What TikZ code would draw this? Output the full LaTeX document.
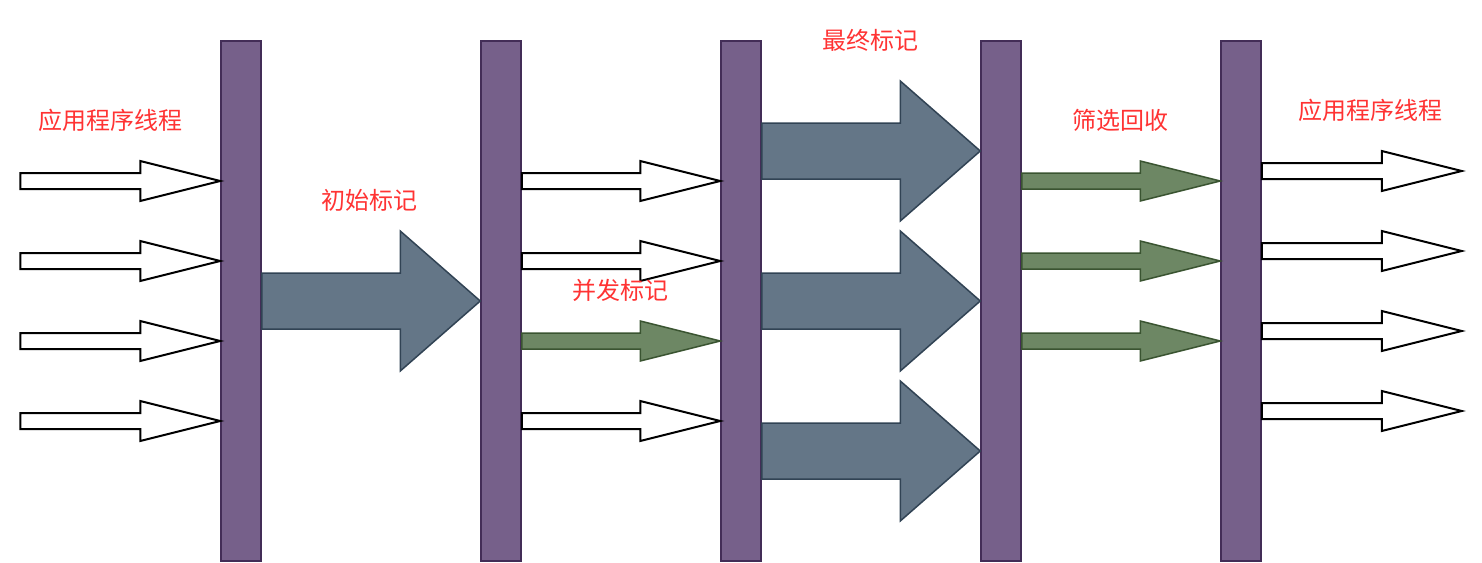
\documentclass[tikz,border=0pt]{standalone}
\usepackage{fontspec}
\newfontfamily\cjk{Noto Sans CJK SC}
\usepackage{tikz}
\usetikzlibrary{calc}
\definecolor{barFill}{HTML}{76608A}
\definecolor{barLine}{HTML}{432D57}
\definecolor{bigFill}{HTML}{647687}
\definecolor{bigLine}{HTML}{314354}
\definecolor{greenFill}{HTML}{6D8764}
\definecolor{greenLine}{HTML}{3A5431}
\definecolor{labelRed}{HTML}{FF3333}
\tikzset{gcFig/.style={x=1pt,y=-1pt},
         bar/.style={draw=barLine,fill=barFill,line width=1.5pt,minimum width=40pt,
                    minimum height=520pt,inner sep=0pt},
         thinArrow/.style={draw=black,fill=white,line width=2pt},
         bigArrow/.style={draw=bigLine,fill=bigFill,line width=1.5pt},
         greenArrow/.style={draw=greenLine,fill=greenFill,line width=1.5pt},
         stageLabel/.style={text=labelRed,inner sep=0pt,font=\cjk\fontsize{24}{28}\selectfont}}
% style, from, to, shaft half, head half, head length
\newcommand{\blockarrow}[6]{%
  \draw[#1] let \p1=#2, \p2=#3 in
    (\x1,\y1-#4) -- (\x2-#6,\y1-#4) -- (\x2-#6,\y1-#5) -- (\x2,\y1)
    -- (\x2-#6,\y1+#5) -- (\x2-#6,\y1+#4) -- (\x1,\y1+#4) -- cycle;}

\begin{document}
\begin{tikzpicture}[gcFig]
			\useasboundingbox (0,0) rectangle (1482,562);
			%BARS
			\node [bar] (b1) at (241,301) {};
			\node [bar] (b2) at (501,301) {};
			\node [bar] (b3) at (741,301) {};
			\node [bar] (b4) at (1001,301) {};
			\node [bar] (b5) at (1241,301) {};

			%APP THREADS IN
			\foreach \dy in {-120,-40,40,120}
			  {\blockarrow{thinArrow}{($(b1.west)+(-200,\dy)$)}{($(b1.west)+(0,\dy)$)}{8pt}{20pt}{80pt}}
			%INITIAL MARK
			\blockarrow{bigArrow}{(b1.east)}{(b2.west)}{28pt}{70pt}{80pt}
			%CONCURRENT MARK
			\foreach \dy in {-120,-40,120}
			  {\blockarrow{thinArrow}{($(b2.east)+(0,\dy)$)}{($(b3.west)+(0,\dy)$)}{8pt}{20pt}{80pt}}
			\blockarrow{greenArrow}{($(b2.east)+(0,40)$)}{($(b3.west)+(0,40)$)}{8pt}{20pt}{80pt}
			%FINAL MARK
			\foreach \dy in {-150,0,150}
			  {\blockarrow{bigArrow}{($(b3.east)+(0,\dy)$)}{($(b4.west)+(0,\dy)$)}{28pt}{70pt}{80pt}}
			%SWEEP
			\foreach \dy in {-120,-40,40}
			  {\blockarrow{greenArrow}{($(b4.east)+(0,\dy)$)}{($(b5.west)+(0,\dy)$)}{8pt}{20pt}{80pt}}
			%APP THREADS OUT
			\foreach \dy in {-130,-50,30,110}
			  {\blockarrow{thinArrow}{($(b5.east)+(0,\dy)$)}{($(b5.east)+(200,\dy)$)}{8pt}{20pt}{80pt}}

			%LABELS
			\node [stageLabel] (lblAppIn) at (110,120) {应用程序线程};
			\node [stageLabel] (lblInit) at (369,200) {初始标记};
			\node [stageLabel] (lblConc) at (620,290) {并发标记};
			\node [stageLabel] (lblFinal) at (870,40) {最终标记};
			\node [stageLabel] (lblSweep) at (1120,120) {筛选回收};
			\node [stageLabel] (lblAppOut) at (1370,110) {应用程序线程};
\end{tikzpicture}
\end{document}
